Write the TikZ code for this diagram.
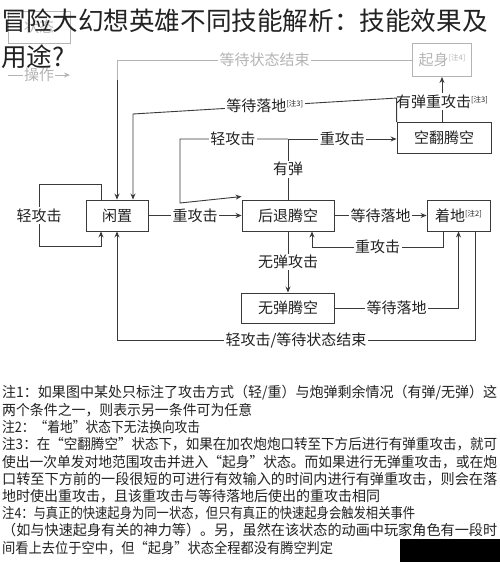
\documentclass[tikz,border=0pt]{standalone}
\usepackage{fontspec}
\usepackage{graphicx}
\setmainfont{Noto Sans CJK SC}
\usetikzlibrary{arrows.meta}
\definecolor{lc}{HTML}{3A3A3A}
\definecolor{tc}{HTML}{222222}
\definecolor{fd}{HTML}{B4B4B4}
\newcommand{\zhu}[1]{\raisebox{5pt}{\fontsize{7.5}{8}\selectfont[#1]}}
\newcommand{\nline}[2]{\resizebox{#1pt}{\height}{#2}}
\tikzset{
  st/.style={draw=lc, line width=0.9pt, minimum height=31pt, inner sep=0pt, font=\fontsize{15}{18}\selectfont, text=tc},
  lab/.style={fill=white, inner sep=1.5pt, font=\fontsize{15}{18}\selectfont, text=tc},
  ln/.style={draw=lc, line width=0.9pt},
  arr/.style={ln, -{Stealth[length=6pt,width=5pt]}},
  note/.style={anchor=west, inner sep=0pt, font=\fontsize{14.4}{16}\selectfont, text=tc},
}
\begin{document}
\begin{tikzpicture}[x=1pt,y=-1pt]
\useasboundingbox (0,0) rectangle (500,562);
% legend (faded)
\node[draw=fd, line width=0.9pt, minimum width=62pt, minimum height=32pt, inner sep=0pt, text=fd, font=\fontsize{15}{18}\selectfont] (lgs) at (39,27) {状态};
\coordinate (lga) at (8,75);
\coordinate (lgb) at (70,75);
\draw[draw=fd, line width=0.9pt, -{Stealth[length=6pt,width=5pt]}] (lga) -- node[fill=white, inner sep=1pt, text=fd, font=\fontsize{15}{18}\selectfont] (lgt) {操作} (lgb);
% title
\node[anchor=west, inner sep=0pt, text=tc, font=\fontsize{25.6}{30}\selectfont] (t1) at (1,21) {冒险大幻想英雄不同技能解析：技能效果及};
\node[anchor=west, inner sep=0pt, text=tc, font=\fontsize{25.6}{30}\selectfont] (t2) at (1,57) {用途?};
% states
\node[st, minimum width=62pt] (idle) at (117,215.5) {闲置};
\node[st, minimum width=92pt] (back) at (288,215.5) {后退腾空};
\node[st, minimum width=94pt] (flip) at (444,138) {空翻腾空};
\node[st, minimum width=63pt] (land) at (458.5,215.5) {着地\zhu{注2}};
\node[st, minimum width=93pt, minimum height=30pt] (noammo) at (288,308) {无弹腾空};
\node[st, draw=fd, text=fd, minimum width=59pt, minimum height=33pt] (rise) at (442,60) {起身\zhu{注4}};
% coordinates
\coordinate (fadeA) at (117,80);
\coordinate (jn) at (288,139);
% rise -> idle
\draw[line width=0.9pt, draw=fd] (rise.west) -- node[lab, text=fd] (lwait) {等待状态结束} (rise.west -| fadeA) -- (fadeA);
\draw[arr] (fadeA) -- (idle.north);
% flip -> rise
\draw[arr] (flip.north -| rise.south) -- node[lab, pos=0.45] (lyd) {有弹重攻击\zhu{注3}} (rise.south);
% flip -> idle (wait landing)
\draw[arr] (flip.north west) -- ++(0,-24) -- node[lab, pos=0.5] (lwl) {等待落地\zhu{注3}} ([xshift=16pt]idle.north |- 0,114) -- ([xshift=16pt]idle.north);
% idle self loop
\draw[arr] ([xshift=-16pt]idle.north) -- ++(0,-15) -- ++(-62,0) -- node[lab] (lqs) {轻攻击} ++(0,62) -- ++(62,0) -- ([xshift=-16pt]idle.south);
% idle -> back
\draw[arr] (idle.east) -- node[lab] (lzh) {重攻击} (back.west);
% back -> junction
\draw[ln] (back.north) -- node[lab] (lyd2) {有弹} (jn);
\draw[arr] (jn) -- node[lab] (lzh2) {重攻击} (jn -| flip.west);
\draw[arr] (jn) -- node[lab, pos=0.51] (lqg) {轻攻击} (180,139) -- (180,203) -- ([yshift=3pt]back.north west);
% back -> land
\draw[arr] (back.east) -- node[lab] (lwl2) {等待落地} (land.west);
% land -> back
\draw[arr] ([xshift=-15.5pt]land.south) |- node[lab, pos=0.75] (lzh3) {重攻击} ([xshift=24pt]back.south |- 0,247) -- ([xshift=24pt]back.south);
% back -> noammo
\draw[arr] (back.south) -- node[lab] (lwd) {无弹攻击} (noammo.north);
% noammo -> land
\draw[arr] (noammo.east) -- node[lab, pos=0.5] (lwl3) {等待落地} (noammo.east -| land.south) -- (land.south);
% land -> idle
\draw[arr] ([xshift=16.5pt]land.south) |- node[lab, pos=0.75] (lbig) {轻攻击/等待状态结束} (idle.south |- 0,340) -- (idle.south);
% notes
\node[note] (n1) at (2,393) {\nline{495}{注1：如果图中某处只标注了攻击方式（轻/重）与炮弹剩余情况（有弹/无弹）这}};
\node[note] (n2) at (2,410.2) {\nline{250}{两个条件之一，则表示另一条件可为任意}};
\node[note] (n3) at (2,427.4) {\nline{198}{注2：“着地”状态下无法换向攻击}};
\node[note] (n4) at (2,444.6) {\nline{495}{注3：在“空翻腾空”状态下，如果在加农炮炮口转至下方后进行有弹重攻击，就可}};
\node[note] (n5) at (2,461.8) {\nline{495}{使出一次单发对地范围攻击并进入“起身”状态。而如果进行无弹重攻击，或在炮}};
\node[note] (n6) at (2,479) {\nline{495}{口转至下方前的一段很短的可进行有效输入的时间内进行有弹重攻击，则会在落}};
\node[note] (n7) at (2,496.2) {\nline{378}{地时使出重攻击，且该重攻击与等待落地后使出的重攻击相同}};
\node[note] (n8) at (2,513.4) {\nline{413}{注4：与真正的快速起身为同一状态，但只有真正的快速起身会触发相关事件}};
\node[note] (n9) at (2,530.6) {\nline{495}{（如与快速起身有关的神力等）。另，虽然在该状态的动画中玩家角色有一段时}};
\node[note] (n10) at (2,547.8) {\nline{331}{间看上去位于空中，但“起身”状态全程都没有腾空判定}};
% watermark block
\fill[black] (400,539) rectangle (500,562);
\end{tikzpicture}
\end{document}
